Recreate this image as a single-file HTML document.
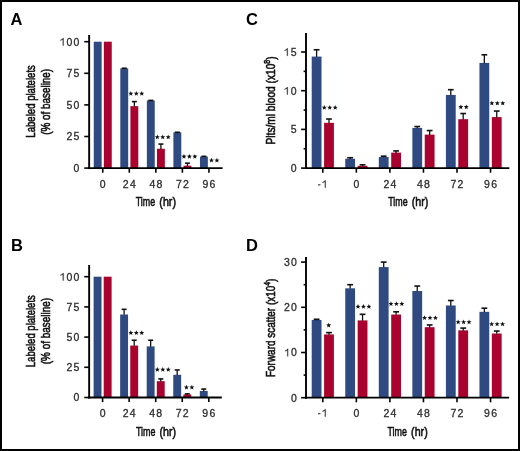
<!DOCTYPE html>
<html><head><meta charset="utf-8"><style>
html,body{margin:0;padding:0;background:#fff;}
svg{display:block;will-change:transform;}
text{font-family:"Liberation Sans",sans-serif;}
</style></head><body>
<svg width="520" height="451" viewBox="0 0 520 451">
<rect x="0" y="0" width="520" height="451" fill="#fff"/>
<rect x="93.75" y="41.70" width="7.90" height="126.40" fill="#2f4a81"/>
<rect x="103.85" y="41.70" width="7.90" height="126.40" fill="#a9022f"/>
<rect x="120.30" y="68.37" width="7.90" height="99.73" fill="#2f4a81"/>
<line x1="124.25" y1="68.67" x2="124.25" y2="68.24" stroke="#111" stroke-width="1.3"/>
<line x1="121.75" y1="68.24" x2="126.75" y2="68.24" stroke="#111" stroke-width="1.6"/>
<rect x="130.40" y="106.16" width="7.90" height="61.94" fill="#a9022f"/>
<line x1="134.35" y1="106.46" x2="134.35" y2="101.61" stroke="#111" stroke-width="1.3"/>
<line x1="131.85" y1="101.61" x2="136.85" y2="101.61" stroke="#111" stroke-width="1.6"/>
<rect x="146.85" y="100.48" width="7.90" height="67.62" fill="#2f4a81"/>
<line x1="150.80" y1="100.78" x2="150.80" y2="100.41" stroke="#111" stroke-width="1.3"/>
<line x1="148.30" y1="100.41" x2="153.30" y2="100.41" stroke="#111" stroke-width="1.6"/>
<rect x="156.95" y="148.76" width="7.90" height="19.34" fill="#a9022f"/>
<line x1="160.90" y1="149.06" x2="160.90" y2="144.08" stroke="#111" stroke-width="1.3"/>
<line x1="158.40" y1="144.08" x2="163.40" y2="144.08" stroke="#111" stroke-width="1.6"/>
<rect x="173.40" y="132.33" width="7.90" height="35.77" fill="#2f4a81"/>
<line x1="177.35" y1="132.63" x2="177.35" y2="132.27" stroke="#111" stroke-width="1.3"/>
<line x1="174.85" y1="132.27" x2="179.85" y2="132.27" stroke="#111" stroke-width="1.6"/>
<rect x="183.50" y="165.70" width="7.90" height="2.40" fill="#a9022f"/>
<line x1="187.45" y1="166.00" x2="187.45" y2="163.17" stroke="#111" stroke-width="1.3"/>
<line x1="184.95" y1="163.17" x2="189.95" y2="163.17" stroke="#111" stroke-width="1.6"/>
<rect x="199.95" y="156.60" width="7.90" height="11.50" fill="#2f4a81"/>
<line x1="203.90" y1="156.90" x2="203.90" y2="156.34" stroke="#111" stroke-width="1.3"/>
<line x1="201.40" y1="156.34" x2="206.40" y2="156.34" stroke="#111" stroke-width="1.6"/>
<line x1="89.15" y1="35.00" x2="89.15" y2="169.10" stroke="#000" stroke-width="1.9"/>
<line x1="88.15" y1="168.10" x2="222.60" y2="168.10" stroke="#000" stroke-width="1.8"/>
<line x1="84.25" y1="168.10" x2="89.15" y2="168.10" stroke="#000" stroke-width="1.6"/>
<text x="73.56" y="171.90" font-size="10.5" fill="#2e2e2e" stroke="#2e2e2e" stroke-width="0.3" >0</text>
<line x1="84.25" y1="136.50" x2="89.15" y2="136.50" stroke="#000" stroke-width="1.6"/>
<text x="66.52 73.56" y="140.30" font-size="10.5" fill="#2e2e2e" stroke="#2e2e2e" stroke-width="0.3" >25</text>
<line x1="84.25" y1="104.90" x2="89.15" y2="104.90" stroke="#000" stroke-width="1.6"/>
<text x="66.52 73.56" y="108.70" font-size="10.5" fill="#2e2e2e" stroke="#2e2e2e" stroke-width="0.3" >50</text>
<line x1="84.25" y1="73.30" x2="89.15" y2="73.30" stroke="#000" stroke-width="1.6"/>
<text x="66.52 73.56" y="77.10" font-size="10.5" fill="#2e2e2e" stroke="#2e2e2e" stroke-width="0.3" >75</text>
<line x1="84.25" y1="41.70" x2="89.15" y2="41.70" stroke="#000" stroke-width="1.6"/>
<path d="M62.79,45.50 L63.58,45.50 L63.58,38.06 L63.00,38.06 L62.32,38.88 L60.43,39.93 L60.43,40.56 L62.79,39.67Z" fill="#2e2e2e" stroke="#2e2e2e" stroke-width="0.25" stroke-linejoin="round"/>
<text x="66.52 73.56" y="45.50" font-size="10.5" fill="#2e2e2e" stroke="#2e2e2e" stroke-width="0.3" >00</text>
<line x1="102.75" y1="168.10" x2="102.75" y2="172.70" stroke="#000" stroke-width="1.6"/>
<text x="99.83" y="187.75" font-size="10.5" fill="#2e2e2e" stroke="#2e2e2e" stroke-width="0.3" >0</text>
<line x1="129.30" y1="168.10" x2="129.30" y2="172.70" stroke="#000" stroke-width="1.6"/>
<text x="122.86 129.90" y="187.75" font-size="10.5" fill="#2e2e2e" stroke="#2e2e2e" stroke-width="0.3" >24</text>
<line x1="155.85" y1="168.10" x2="155.85" y2="172.70" stroke="#000" stroke-width="1.6"/>
<text x="149.41 156.45" y="187.75" font-size="10.5" fill="#2e2e2e" stroke="#2e2e2e" stroke-width="0.3" >48</text>
<line x1="182.40" y1="168.10" x2="182.40" y2="172.70" stroke="#000" stroke-width="1.6"/>
<text x="175.96 183.00" y="187.75" font-size="10.5" fill="#2e2e2e" stroke="#2e2e2e" stroke-width="0.3" >72</text>
<line x1="208.95" y1="168.10" x2="208.95" y2="172.70" stroke="#000" stroke-width="1.6"/>
<text x="202.51 209.55" y="187.75" font-size="10.5" fill="#2e2e2e" stroke="#2e2e2e" stroke-width="0.3" >96</text>
<path d="M130.85,91.05 L131.53,92.72 L133.32,92.85 L131.94,94.01 L132.38,95.75 L130.85,94.80 L129.32,95.75 L129.76,94.01 L128.38,92.85 L130.17,92.72ZM136.30,91.05 L136.98,92.72 L138.77,92.85 L137.39,94.01 L137.83,95.75 L136.30,94.80 L134.77,95.75 L135.21,94.01 L133.83,92.85 L135.62,92.72ZM141.75,91.05 L142.43,92.72 L144.22,92.85 L142.84,94.01 L143.28,95.75 L141.75,94.80 L140.22,95.75 L140.66,94.01 L139.28,92.85 L141.07,92.72Z" fill="#111"/>
<path d="M157.30,134.55 L157.98,136.22 L159.77,136.35 L158.39,137.51 L158.83,139.25 L157.30,138.30 L155.77,139.25 L156.21,137.51 L154.83,136.35 L156.62,136.22ZM162.75,134.55 L163.43,136.22 L165.22,136.35 L163.84,137.51 L164.28,139.25 L162.75,138.30 L161.22,139.25 L161.66,137.51 L160.28,136.35 L162.07,136.22ZM168.20,134.55 L168.88,136.22 L170.67,136.35 L169.29,137.51 L169.73,139.25 L168.20,138.30 L166.67,139.25 L167.11,137.51 L165.73,136.35 L167.52,136.22Z" fill="#111"/>
<path d="M183.95,153.95 L184.63,155.62 L186.42,155.75 L185.04,156.91 L185.48,158.65 L183.95,157.70 L182.42,158.65 L182.86,156.91 L181.48,155.75 L183.27,155.62ZM189.40,153.95 L190.08,155.62 L191.87,155.75 L190.49,156.91 L190.93,158.65 L189.40,157.70 L187.87,158.65 L188.31,156.91 L186.93,155.75 L188.72,155.62ZM194.85,153.95 L195.53,155.62 L197.32,155.75 L195.94,156.91 L196.38,158.65 L194.85,157.70 L193.32,158.65 L193.76,156.91 L192.38,155.75 L194.17,155.62Z" fill="#111"/>
<path d="M211.47,157.85 L212.15,159.52 L213.95,159.65 L212.57,160.81 L213.00,162.55 L211.47,161.60 L209.95,162.55 L210.38,160.81 L209.00,159.65 L210.80,159.52ZM216.92,157.85 L217.60,159.52 L219.40,159.65 L218.02,160.81 L218.45,162.55 L216.92,161.60 L215.40,162.55 L215.83,160.81 L214.45,159.65 L216.25,159.52Z" fill="#111"/>
<text x="135.75" y="206.35" text-anchor="start" font-size="13.2" fill="#111" stroke="#111" stroke-width="0.6" textLength="19.4" lengthAdjust="spacingAndGlyphs">Time</text>
<text x="159.35" y="206.35" text-anchor="start" font-size="13.2" fill="#111" stroke="#111" stroke-width="0.6" textLength="16.6" lengthAdjust="spacingAndGlyphs">(hr)</text>
<text x="35.30" y="101.40" text-anchor="middle" font-size="13.3" fill="#111" stroke="#111" stroke-width="0.6" textLength="72.5" lengthAdjust="spacingAndGlyphs" transform="rotate(-90 35.30 101.40)">Labeled platelets</text>
<text x="50.30" y="101.80" text-anchor="middle" font-size="13.3" fill="#111" stroke="#111" stroke-width="0.6" textLength="65.9" lengthAdjust="spacingAndGlyphs" transform="rotate(-90 50.30 101.80)">(% of baseline)</text>
<rect x="93.60" y="276.70" width="7.90" height="120.80" fill="#2f4a81"/>
<rect x="103.70" y="276.70" width="7.90" height="120.80" fill="#a9022f"/>
<rect x="120.15" y="314.51" width="7.90" height="82.99" fill="#2f4a81"/>
<line x1="124.10" y1="314.81" x2="124.10" y2="309.32" stroke="#111" stroke-width="1.3"/>
<line x1="121.60" y1="309.32" x2="126.60" y2="309.32" stroke="#111" stroke-width="1.6"/>
<rect x="130.25" y="345.56" width="7.90" height="51.94" fill="#a9022f"/>
<line x1="134.20" y1="345.86" x2="134.20" y2="340.24" stroke="#111" stroke-width="1.3"/>
<line x1="131.70" y1="340.24" x2="136.70" y2="340.24" stroke="#111" stroke-width="1.6"/>
<rect x="146.70" y="346.40" width="7.90" height="51.10" fill="#2f4a81"/>
<line x1="150.65" y1="346.70" x2="150.65" y2="340.24" stroke="#111" stroke-width="1.3"/>
<line x1="148.15" y1="340.24" x2="153.15" y2="340.24" stroke="#111" stroke-width="1.6"/>
<rect x="156.80" y="381.19" width="7.90" height="16.31" fill="#a9022f"/>
<line x1="160.75" y1="381.49" x2="160.75" y2="378.90" stroke="#111" stroke-width="1.3"/>
<line x1="158.25" y1="378.90" x2="163.25" y2="378.90" stroke="#111" stroke-width="1.6"/>
<rect x="173.25" y="374.79" width="7.90" height="22.71" fill="#2f4a81"/>
<line x1="177.20" y1="375.09" x2="177.20" y2="369.96" stroke="#111" stroke-width="1.3"/>
<line x1="174.70" y1="369.96" x2="179.70" y2="369.96" stroke="#111" stroke-width="1.6"/>
<rect x="183.35" y="394.48" width="7.90" height="3.02" fill="#a9022f"/>
<line x1="187.30" y1="394.78" x2="187.30" y2="393.88" stroke="#111" stroke-width="1.3"/>
<line x1="184.80" y1="393.88" x2="189.80" y2="393.88" stroke="#111" stroke-width="1.6"/>
<rect x="199.80" y="390.98" width="7.90" height="6.52" fill="#2f4a81"/>
<line x1="203.75" y1="391.28" x2="203.75" y2="389.04" stroke="#111" stroke-width="1.3"/>
<line x1="201.25" y1="389.04" x2="206.25" y2="389.04" stroke="#111" stroke-width="1.6"/>
<line x1="89.15" y1="265.00" x2="89.15" y2="398.50" stroke="#000" stroke-width="1.9"/>
<line x1="88.15" y1="397.50" x2="221.80" y2="397.50" stroke="#000" stroke-width="1.8"/>
<line x1="84.25" y1="397.50" x2="89.15" y2="397.50" stroke="#000" stroke-width="1.6"/>
<text x="73.56" y="401.30" font-size="10.5" fill="#2e2e2e" stroke="#2e2e2e" stroke-width="0.3" >0</text>
<line x1="84.25" y1="367.30" x2="89.15" y2="367.30" stroke="#000" stroke-width="1.6"/>
<text x="66.52 73.56" y="371.10" font-size="10.5" fill="#2e2e2e" stroke="#2e2e2e" stroke-width="0.3" >25</text>
<line x1="84.25" y1="337.10" x2="89.15" y2="337.10" stroke="#000" stroke-width="1.6"/>
<text x="66.52 73.56" y="340.90" font-size="10.5" fill="#2e2e2e" stroke="#2e2e2e" stroke-width="0.3" >50</text>
<line x1="84.25" y1="306.90" x2="89.15" y2="306.90" stroke="#000" stroke-width="1.6"/>
<text x="66.52 73.56" y="310.70" font-size="10.5" fill="#2e2e2e" stroke="#2e2e2e" stroke-width="0.3" >75</text>
<line x1="84.25" y1="276.70" x2="89.15" y2="276.70" stroke="#000" stroke-width="1.6"/>
<path d="M62.79,280.50 L63.58,280.50 L63.58,273.06 L63.00,273.06 L62.32,273.88 L60.43,274.94 L60.43,275.56 L62.79,274.67Z" fill="#2e2e2e" stroke="#2e2e2e" stroke-width="0.25" stroke-linejoin="round"/>
<text x="66.52 73.56" y="280.50" font-size="10.5" fill="#2e2e2e" stroke="#2e2e2e" stroke-width="0.3" >00</text>
<line x1="102.60" y1="397.50" x2="102.60" y2="402.10" stroke="#000" stroke-width="1.6"/>
<text x="99.68" y="416.70" font-size="10.5" fill="#2e2e2e" stroke="#2e2e2e" stroke-width="0.3" >0</text>
<line x1="129.15" y1="397.50" x2="129.15" y2="402.10" stroke="#000" stroke-width="1.6"/>
<text x="122.71 129.75" y="416.70" font-size="10.5" fill="#2e2e2e" stroke="#2e2e2e" stroke-width="0.3" >24</text>
<line x1="155.70" y1="397.50" x2="155.70" y2="402.10" stroke="#000" stroke-width="1.6"/>
<text x="149.26 156.30" y="416.70" font-size="10.5" fill="#2e2e2e" stroke="#2e2e2e" stroke-width="0.3" >48</text>
<line x1="182.25" y1="397.50" x2="182.25" y2="402.10" stroke="#000" stroke-width="1.6"/>
<text x="175.81 182.85" y="416.70" font-size="10.5" fill="#2e2e2e" stroke="#2e2e2e" stroke-width="0.3" >72</text>
<line x1="208.80" y1="397.50" x2="208.80" y2="402.10" stroke="#000" stroke-width="1.6"/>
<text x="202.36 209.40" y="416.70" font-size="10.5" fill="#2e2e2e" stroke="#2e2e2e" stroke-width="0.3" >96</text>
<path d="M130.85,330.25 L131.53,331.92 L133.32,332.05 L131.94,333.21 L132.38,334.95 L130.85,334.00 L129.32,334.95 L129.76,333.21 L128.38,332.05 L130.17,331.92ZM136.30,330.25 L136.98,331.92 L138.77,332.05 L137.39,333.21 L137.83,334.95 L136.30,334.00 L134.77,334.95 L135.21,333.21 L133.83,332.05 L135.62,331.92ZM141.75,330.25 L142.43,331.92 L144.22,332.05 L142.84,333.21 L143.28,334.95 L141.75,334.00 L140.22,334.95 L140.66,333.21 L139.28,332.05 L141.07,331.92Z" fill="#111"/>
<path d="M157.35,367.05 L158.03,368.72 L159.82,368.85 L158.44,370.01 L158.88,371.75 L157.35,370.80 L155.82,371.75 L156.26,370.01 L154.88,368.85 L156.67,368.72ZM162.80,367.05 L163.48,368.72 L165.27,368.85 L163.89,370.01 L164.33,371.75 L162.80,370.80 L161.27,371.75 L161.71,370.01 L160.33,368.85 L162.12,368.72ZM168.25,367.05 L168.93,368.72 L170.72,368.85 L169.34,370.01 L169.78,371.75 L168.25,370.80 L166.72,371.75 L167.16,370.01 L165.78,368.85 L167.57,368.72Z" fill="#111"/>
<path d="M186.43,384.80 L187.10,386.47 L188.90,386.60 L187.52,387.76 L187.95,389.50 L186.43,388.55 L184.90,389.50 L185.33,387.76 L183.95,386.60 L185.75,386.47ZM191.88,384.80 L192.55,386.47 L194.35,386.60 L192.97,387.76 L193.40,389.50 L191.88,388.55 L190.35,389.50 L190.78,387.76 L189.40,386.60 L191.20,386.47Z" fill="#111"/>
<text x="135.95" y="436.40" text-anchor="start" font-size="13.2" fill="#111" stroke="#111" stroke-width="0.6" textLength="19.4" lengthAdjust="spacingAndGlyphs">Time</text>
<text x="159.55" y="436.40" text-anchor="start" font-size="13.2" fill="#111" stroke="#111" stroke-width="0.6" textLength="16.6" lengthAdjust="spacingAndGlyphs">(hr)</text>
<text x="35.00" y="331.20" text-anchor="middle" font-size="13.3" fill="#111" stroke="#111" stroke-width="0.6" textLength="72.0" lengthAdjust="spacingAndGlyphs" transform="rotate(-90 35.00 331.20)">Labeled platelets</text>
<text x="50.20" y="331.10" text-anchor="middle" font-size="13.3" fill="#111" stroke="#111" stroke-width="0.6" textLength="66.4" lengthAdjust="spacingAndGlyphs" transform="rotate(-90 50.20 331.10)">(% of baseline)</text>
<rect x="311.70" y="56.57" width="9.80" height="111.53" fill="#2f4a81"/>
<line x1="316.60" y1="56.87" x2="316.60" y2="49.76" stroke="#111" stroke-width="1.3"/>
<line x1="313.70" y1="49.76" x2="319.50" y2="49.76" stroke="#111" stroke-width="1.6"/>
<rect x="324.10" y="122.82" width="9.80" height="45.28" fill="#a9022f"/>
<line x1="329.00" y1="123.12" x2="329.00" y2="119.03" stroke="#111" stroke-width="1.3"/>
<line x1="326.10" y1="119.03" x2="331.90" y2="119.03" stroke="#111" stroke-width="1.6"/>
<rect x="345.25" y="158.73" width="9.80" height="9.37" fill="#2f4a81"/>
<line x1="350.15" y1="159.03" x2="350.15" y2="157.73" stroke="#111" stroke-width="1.3"/>
<line x1="347.25" y1="157.73" x2="353.05" y2="157.73" stroke="#111" stroke-width="1.6"/>
<rect x="357.65" y="165.78" width="9.80" height="2.32" fill="#a9022f"/>
<line x1="362.55" y1="166.08" x2="362.55" y2="164.77" stroke="#111" stroke-width="1.3"/>
<line x1="359.65" y1="164.77" x2="365.45" y2="164.77" stroke="#111" stroke-width="1.6"/>
<rect x="378.80" y="157.03" width="9.80" height="11.07" fill="#2f4a81"/>
<line x1="383.70" y1="157.33" x2="383.70" y2="156.18" stroke="#111" stroke-width="1.3"/>
<line x1="380.80" y1="156.18" x2="386.60" y2="156.18" stroke="#111" stroke-width="1.6"/>
<rect x="391.20" y="152.62" width="9.80" height="15.48" fill="#a9022f"/>
<line x1="396.10" y1="152.92" x2="396.10" y2="150.92" stroke="#111" stroke-width="1.3"/>
<line x1="393.20" y1="150.92" x2="399.00" y2="150.92" stroke="#111" stroke-width="1.6"/>
<rect x="412.35" y="127.93" width="9.80" height="40.17" fill="#2f4a81"/>
<line x1="417.25" y1="128.23" x2="417.25" y2="126.54" stroke="#111" stroke-width="1.3"/>
<line x1="414.35" y1="126.54" x2="420.15" y2="126.54" stroke="#111" stroke-width="1.6"/>
<rect x="424.75" y="134.59" width="9.80" height="33.51" fill="#a9022f"/>
<line x1="429.65" y1="134.89" x2="429.65" y2="130.56" stroke="#111" stroke-width="1.3"/>
<line x1="426.75" y1="130.56" x2="432.55" y2="130.56" stroke="#111" stroke-width="1.6"/>
<rect x="445.90" y="94.96" width="9.80" height="73.14" fill="#2f4a81"/>
<line x1="450.80" y1="95.26" x2="450.80" y2="89.69" stroke="#111" stroke-width="1.3"/>
<line x1="447.90" y1="89.69" x2="453.70" y2="89.69" stroke="#111" stroke-width="1.6"/>
<rect x="458.30" y="119.18" width="9.80" height="48.92" fill="#a9022f"/>
<line x1="463.20" y1="119.48" x2="463.20" y2="113.53" stroke="#111" stroke-width="1.3"/>
<line x1="460.30" y1="113.53" x2="466.10" y2="113.53" stroke="#111" stroke-width="1.6"/>
<rect x="479.45" y="62.91" width="9.80" height="105.19" fill="#2f4a81"/>
<line x1="484.35" y1="63.21" x2="484.35" y2="54.79" stroke="#111" stroke-width="1.3"/>
<line x1="481.45" y1="54.79" x2="487.25" y2="54.79" stroke="#111" stroke-width="1.6"/>
<rect x="491.85" y="117.09" width="9.80" height="51.01" fill="#a9022f"/>
<line x1="496.75" y1="117.39" x2="496.75" y2="111.06" stroke="#111" stroke-width="1.3"/>
<line x1="493.85" y1="111.06" x2="499.65" y2="111.06" stroke="#111" stroke-width="1.6"/>
<line x1="306.00" y1="33.00" x2="306.00" y2="169.10" stroke="#000" stroke-width="1.9"/>
<line x1="305.00" y1="168.10" x2="509.30" y2="168.10" stroke="#000" stroke-width="1.8"/>
<line x1="301.10" y1="168.10" x2="306.00" y2="168.10" stroke="#000" stroke-width="1.6"/>
<text x="290.66" y="171.90" font-size="10.5" fill="#2e2e2e" stroke="#2e2e2e" stroke-width="0.3" >0</text>
<line x1="303.60" y1="148.75" x2="306.00" y2="148.75" stroke="#000" stroke-width="1.6"/>
<line x1="301.10" y1="129.40" x2="306.00" y2="129.40" stroke="#000" stroke-width="1.6"/>
<text x="290.66" y="133.20" font-size="10.5" fill="#2e2e2e" stroke="#2e2e2e" stroke-width="0.3" >5</text>
<line x1="303.60" y1="110.05" x2="306.00" y2="110.05" stroke="#000" stroke-width="1.6"/>
<line x1="301.10" y1="90.70" x2="306.00" y2="90.70" stroke="#000" stroke-width="1.6"/>
<path d="M286.93,94.50 L287.72,94.50 L287.72,87.06 L287.14,87.06 L286.46,87.88 L284.57,88.93 L284.57,89.56 L286.93,88.67Z" fill="#2e2e2e" stroke="#2e2e2e" stroke-width="0.25" stroke-linejoin="round"/>
<text x="290.66" y="94.50" font-size="10.5" fill="#2e2e2e" stroke="#2e2e2e" stroke-width="0.3" >0</text>
<line x1="303.60" y1="71.35" x2="306.00" y2="71.35" stroke="#000" stroke-width="1.6"/>
<line x1="301.10" y1="52.00" x2="306.00" y2="52.00" stroke="#000" stroke-width="1.6"/>
<path d="M286.93,55.80 L287.72,55.80 L287.72,48.36 L287.14,48.36 L286.46,49.18 L284.57,50.23 L284.57,50.86 L286.93,49.97Z" fill="#2e2e2e" stroke="#2e2e2e" stroke-width="0.25" stroke-linejoin="round"/>
<text x="290.66" y="55.80" font-size="10.5" fill="#2e2e2e" stroke="#2e2e2e" stroke-width="0.3" >5</text>
<line x1="322.80" y1="168.10" x2="322.80" y2="172.70" stroke="#000" stroke-width="1.6"/>
<rect x="318.25" y="184.39" width="2.00" height="0.84" fill="#2e2e2e" stroke="#2e2e2e" stroke-width="0.25"/>
<path d="M324.86,187.75 L325.65,187.75 L325.65,180.31 L325.07,180.31 L324.39,181.13 L322.50,182.19 L322.50,182.81 L324.86,181.92Z" fill="#2e2e2e" stroke="#2e2e2e" stroke-width="0.25" stroke-linejoin="round"/>
<line x1="356.35" y1="168.10" x2="356.35" y2="172.70" stroke="#000" stroke-width="1.6"/>
<text x="353.43" y="187.75" font-size="10.5" fill="#2e2e2e" stroke="#2e2e2e" stroke-width="0.3" >0</text>
<line x1="389.90" y1="168.10" x2="389.90" y2="172.70" stroke="#000" stroke-width="1.6"/>
<text x="383.46 390.50" y="187.75" font-size="10.5" fill="#2e2e2e" stroke="#2e2e2e" stroke-width="0.3" >24</text>
<line x1="423.45" y1="168.10" x2="423.45" y2="172.70" stroke="#000" stroke-width="1.6"/>
<text x="417.01 424.05" y="187.75" font-size="10.5" fill="#2e2e2e" stroke="#2e2e2e" stroke-width="0.3" >48</text>
<line x1="457.00" y1="168.10" x2="457.00" y2="172.70" stroke="#000" stroke-width="1.6"/>
<text x="450.56 457.60" y="187.75" font-size="10.5" fill="#2e2e2e" stroke="#2e2e2e" stroke-width="0.3" >72</text>
<line x1="490.55" y1="168.10" x2="490.55" y2="172.70" stroke="#000" stroke-width="1.6"/>
<text x="484.11 491.15" y="187.75" font-size="10.5" fill="#2e2e2e" stroke="#2e2e2e" stroke-width="0.3" >96</text>
<path d="M324.30,105.05 L324.98,106.72 L326.77,106.85 L325.39,108.01 L325.83,109.75 L324.30,108.80 L322.77,109.75 L323.21,108.01 L321.83,106.85 L323.62,106.72ZM329.75,105.05 L330.43,106.72 L332.22,106.85 L330.84,108.01 L331.28,109.75 L329.75,108.80 L328.22,109.75 L328.66,108.01 L327.28,106.85 L329.07,106.72ZM335.20,105.05 L335.88,106.72 L337.67,106.85 L336.29,108.01 L336.73,109.75 L335.20,108.80 L333.67,109.75 L334.11,108.01 L332.73,106.85 L334.52,106.72Z" fill="#111"/>
<path d="M460.82,104.45 L461.50,106.12 L463.30,106.25 L461.92,107.41 L462.35,109.15 L460.82,108.20 L459.30,109.15 L459.73,107.41 L458.35,106.25 L460.15,106.12ZM466.27,104.45 L466.95,106.12 L468.75,106.25 L467.37,107.41 L467.80,109.15 L466.27,108.20 L464.75,109.15 L465.18,107.41 L463.80,106.25 L465.60,106.12Z" fill="#111"/>
<path d="M491.85,100.65 L492.53,102.32 L494.32,102.45 L492.94,103.61 L493.38,105.35 L491.85,104.40 L490.32,105.35 L490.76,103.61 L489.38,102.45 L491.17,102.32ZM497.30,100.65 L497.98,102.32 L499.77,102.45 L498.39,103.61 L498.83,105.35 L497.30,104.40 L495.77,105.35 L496.21,103.61 L494.83,102.45 L496.62,102.32ZM502.75,100.65 L503.43,102.32 L505.22,102.45 L503.84,103.61 L504.28,105.35 L502.75,104.40 L501.22,105.35 L501.66,103.61 L500.28,102.45 L502.07,102.32Z" fill="#111"/>
<text x="388.20" y="206.10" text-anchor="start" font-size="13.2" fill="#111" stroke="#111" stroke-width="0.6" textLength="19.4" lengthAdjust="spacingAndGlyphs">Time</text>
<text x="411.80" y="206.10" text-anchor="start" font-size="13.2" fill="#111" stroke="#111" stroke-width="0.6" textLength="16.6" lengthAdjust="spacingAndGlyphs">(hr)</text>
<text x="275.20" y="100.45" text-anchor="middle" font-size="13.3" fill="#111" stroke="#111" stroke-width="0.6" textLength="88.0" lengthAdjust="spacingAndGlyphs" transform="rotate(-90 275.20 100.45)">Plts/ml blood (x10<tspan dy="-5" font-size="9">8</tspan><tspan dy="5">)</tspan></text>
<rect x="311.70" y="319.96" width="9.80" height="77.74" fill="#2f4a81"/>
<line x1="316.60" y1="320.26" x2="316.60" y2="319.28" stroke="#111" stroke-width="1.3"/>
<line x1="313.70" y1="319.28" x2="319.50" y2="319.28" stroke="#111" stroke-width="1.6"/>
<rect x="324.10" y="334.42" width="9.80" height="63.28" fill="#a9022f"/>
<line x1="329.00" y1="334.72" x2="329.00" y2="332.61" stroke="#111" stroke-width="1.3"/>
<line x1="326.10" y1="332.61" x2="331.90" y2="332.61" stroke="#111" stroke-width="1.6"/>
<rect x="345.25" y="288.32" width="9.80" height="109.38" fill="#2f4a81"/>
<line x1="350.15" y1="288.62" x2="350.15" y2="284.70" stroke="#111" stroke-width="1.3"/>
<line x1="347.25" y1="284.70" x2="353.05" y2="284.70" stroke="#111" stroke-width="1.6"/>
<rect x="357.65" y="320.41" width="9.80" height="77.29" fill="#a9022f"/>
<line x1="362.55" y1="320.71" x2="362.55" y2="314.31" stroke="#111" stroke-width="1.3"/>
<line x1="359.65" y1="314.31" x2="365.45" y2="314.31" stroke="#111" stroke-width="1.6"/>
<rect x="378.80" y="267.07" width="9.80" height="130.63" fill="#2f4a81"/>
<line x1="383.70" y1="267.37" x2="383.70" y2="262.10" stroke="#111" stroke-width="1.3"/>
<line x1="380.80" y1="262.10" x2="386.60" y2="262.10" stroke="#111" stroke-width="1.6"/>
<rect x="391.20" y="314.53" width="9.80" height="83.17" fill="#a9022f"/>
<line x1="396.10" y1="314.83" x2="396.10" y2="311.82" stroke="#111" stroke-width="1.3"/>
<line x1="393.20" y1="311.82" x2="399.00" y2="311.82" stroke="#111" stroke-width="1.6"/>
<rect x="412.35" y="291.03" width="9.80" height="106.67" fill="#2f4a81"/>
<line x1="417.25" y1="291.33" x2="417.25" y2="286.06" stroke="#111" stroke-width="1.3"/>
<line x1="414.35" y1="286.06" x2="420.15" y2="286.06" stroke="#111" stroke-width="1.6"/>
<rect x="424.75" y="327.19" width="9.80" height="70.51" fill="#a9022f"/>
<line x1="429.65" y1="327.49" x2="429.65" y2="324.93" stroke="#111" stroke-width="1.3"/>
<line x1="426.75" y1="324.93" x2="432.55" y2="324.93" stroke="#111" stroke-width="1.6"/>
<rect x="445.90" y="305.49" width="9.80" height="92.21" fill="#2f4a81"/>
<line x1="450.80" y1="305.79" x2="450.80" y2="300.52" stroke="#111" stroke-width="1.3"/>
<line x1="447.90" y1="300.52" x2="453.70" y2="300.52" stroke="#111" stroke-width="1.6"/>
<rect x="458.30" y="330.35" width="9.80" height="67.35" fill="#a9022f"/>
<line x1="463.20" y1="330.65" x2="463.20" y2="328.09" stroke="#111" stroke-width="1.3"/>
<line x1="460.30" y1="328.09" x2="466.10" y2="328.09" stroke="#111" stroke-width="1.6"/>
<rect x="479.45" y="311.82" width="9.80" height="85.88" fill="#2f4a81"/>
<line x1="484.35" y1="312.12" x2="484.35" y2="308.20" stroke="#111" stroke-width="1.3"/>
<line x1="481.45" y1="308.20" x2="487.25" y2="308.20" stroke="#111" stroke-width="1.6"/>
<rect x="491.85" y="333.52" width="9.80" height="64.18" fill="#a9022f"/>
<line x1="496.75" y1="333.82" x2="496.75" y2="331.03" stroke="#111" stroke-width="1.3"/>
<line x1="493.85" y1="331.03" x2="499.65" y2="331.03" stroke="#111" stroke-width="1.6"/>
<line x1="306.00" y1="257.00" x2="306.00" y2="398.70" stroke="#000" stroke-width="1.9"/>
<line x1="305.00" y1="397.70" x2="509.10" y2="397.70" stroke="#000" stroke-width="1.8"/>
<line x1="301.10" y1="397.70" x2="306.00" y2="397.70" stroke="#000" stroke-width="1.6"/>
<text x="291.06" y="401.50" font-size="10.5" fill="#2e2e2e" stroke="#2e2e2e" stroke-width="0.3" >0</text>
<line x1="303.60" y1="375.10" x2="306.00" y2="375.10" stroke="#000" stroke-width="1.6"/>
<line x1="301.10" y1="352.50" x2="306.00" y2="352.50" stroke="#000" stroke-width="1.6"/>
<path d="M287.33,356.30 L288.12,356.30 L288.12,348.86 L287.54,348.86 L286.86,349.69 L284.97,350.74 L284.97,351.37 L287.33,350.47Z" fill="#2e2e2e" stroke="#2e2e2e" stroke-width="0.25" stroke-linejoin="round"/>
<text x="291.06" y="356.30" font-size="10.5" fill="#2e2e2e" stroke="#2e2e2e" stroke-width="0.3" >0</text>
<line x1="303.60" y1="329.90" x2="306.00" y2="329.90" stroke="#000" stroke-width="1.6"/>
<line x1="301.10" y1="307.30" x2="306.00" y2="307.30" stroke="#000" stroke-width="1.6"/>
<text x="284.02 291.06" y="311.10" font-size="10.5" fill="#2e2e2e" stroke="#2e2e2e" stroke-width="0.3" >20</text>
<line x1="303.60" y1="284.70" x2="306.00" y2="284.70" stroke="#000" stroke-width="1.6"/>
<line x1="301.10" y1="262.10" x2="306.00" y2="262.10" stroke="#000" stroke-width="1.6"/>
<text x="284.02 291.06" y="265.90" font-size="10.5" fill="#2e2e2e" stroke="#2e2e2e" stroke-width="0.3" >30</text>
<line x1="322.80" y1="397.70" x2="322.80" y2="402.30" stroke="#000" stroke-width="1.6"/>
<rect x="318.25" y="413.24" width="2.00" height="0.84" fill="#2e2e2e" stroke="#2e2e2e" stroke-width="0.25"/>
<path d="M324.86,416.60 L325.65,416.60 L325.65,409.16 L325.07,409.16 L324.39,409.99 L322.50,411.04 L322.50,411.67 L324.86,410.77Z" fill="#2e2e2e" stroke="#2e2e2e" stroke-width="0.25" stroke-linejoin="round"/>
<line x1="356.35" y1="397.70" x2="356.35" y2="402.30" stroke="#000" stroke-width="1.6"/>
<text x="353.43" y="416.60" font-size="10.5" fill="#2e2e2e" stroke="#2e2e2e" stroke-width="0.3" >0</text>
<line x1="389.90" y1="397.70" x2="389.90" y2="402.30" stroke="#000" stroke-width="1.6"/>
<text x="383.46 390.50" y="416.60" font-size="10.5" fill="#2e2e2e" stroke="#2e2e2e" stroke-width="0.3" >24</text>
<line x1="423.45" y1="397.70" x2="423.45" y2="402.30" stroke="#000" stroke-width="1.6"/>
<text x="417.01 424.05" y="416.60" font-size="10.5" fill="#2e2e2e" stroke="#2e2e2e" stroke-width="0.3" >48</text>
<line x1="457.00" y1="397.70" x2="457.00" y2="402.30" stroke="#000" stroke-width="1.6"/>
<text x="450.56 457.60" y="416.60" font-size="10.5" fill="#2e2e2e" stroke="#2e2e2e" stroke-width="0.3" >72</text>
<line x1="490.55" y1="397.70" x2="490.55" y2="402.30" stroke="#000" stroke-width="1.6"/>
<text x="484.11 491.15" y="416.60" font-size="10.5" fill="#2e2e2e" stroke="#2e2e2e" stroke-width="0.3" >96</text>
<path d="M328.70,322.70 L329.38,324.37 L331.17,324.50 L329.79,325.66 L330.23,327.40 L328.70,326.45 L327.17,327.40 L327.61,325.66 L326.23,324.50 L328.02,324.37Z" fill="#111"/>
<path d="M358.00,304.10 L358.68,305.77 L360.47,305.90 L359.09,307.06 L359.53,308.80 L358.00,307.85 L356.47,308.80 L356.91,307.06 L355.53,305.90 L357.32,305.77ZM363.45,304.10 L364.13,305.77 L365.92,305.90 L364.54,307.06 L364.98,308.80 L363.45,307.85 L361.92,308.80 L362.36,307.06 L360.98,305.90 L362.77,305.77ZM368.90,304.10 L369.58,305.77 L371.37,305.90 L369.99,307.06 L370.43,308.80 L368.90,307.85 L367.37,308.80 L367.81,307.06 L366.43,305.90 L368.22,305.77Z" fill="#111"/>
<path d="M390.95,301.25 L391.63,302.92 L393.42,303.05 L392.04,304.21 L392.48,305.95 L390.95,305.00 L389.42,305.95 L389.86,304.21 L388.48,303.05 L390.27,302.92ZM396.40,301.25 L397.08,302.92 L398.87,303.05 L397.49,304.21 L397.93,305.95 L396.40,305.00 L394.87,305.95 L395.31,304.21 L393.93,303.05 L395.72,302.92ZM401.85,301.25 L402.53,302.92 L404.32,303.05 L402.94,304.21 L403.38,305.95 L401.85,305.00 L400.32,305.95 L400.76,304.21 L399.38,303.05 L401.17,302.92Z" fill="#111"/>
<path d="M424.55,315.35 L425.23,317.02 L427.02,317.15 L425.64,318.31 L426.08,320.05 L424.55,319.10 L423.02,320.05 L423.46,318.31 L422.08,317.15 L423.87,317.02ZM430.00,315.35 L430.68,317.02 L432.47,317.15 L431.09,318.31 L431.53,320.05 L430.00,319.10 L428.47,320.05 L428.91,318.31 L427.53,317.15 L429.32,317.02ZM435.45,315.35 L436.13,317.02 L437.92,317.15 L436.54,318.31 L436.98,320.05 L435.45,319.10 L433.92,320.05 L434.36,318.31 L432.98,317.15 L434.77,317.02Z" fill="#111"/>
<path d="M458.15,319.55 L458.83,321.22 L460.62,321.35 L459.24,322.51 L459.68,324.25 L458.15,323.30 L456.62,324.25 L457.06,322.51 L455.68,321.35 L457.47,321.22ZM463.60,319.55 L464.28,321.22 L466.07,321.35 L464.69,322.51 L465.13,324.25 L463.60,323.30 L462.07,324.25 L462.51,322.51 L461.13,321.35 L462.92,321.22ZM469.05,319.55 L469.73,321.22 L471.52,321.35 L470.14,322.51 L470.58,324.25 L469.05,323.30 L467.52,324.25 L467.96,322.51 L466.58,321.35 L468.37,321.22Z" fill="#111"/>
<path d="M491.65,321.55 L492.33,323.22 L494.12,323.35 L492.74,324.51 L493.18,326.25 L491.65,325.30 L490.12,326.25 L490.56,324.51 L489.18,323.35 L490.97,323.22ZM497.10,321.55 L497.78,323.22 L499.57,323.35 L498.19,324.51 L498.63,326.25 L497.10,325.30 L495.57,326.25 L496.01,324.51 L494.63,323.35 L496.42,323.22ZM502.55,321.55 L503.23,323.22 L505.02,323.35 L503.64,324.51 L504.08,326.25 L502.55,325.30 L501.02,326.25 L501.46,324.51 L500.08,323.35 L501.87,323.22Z" fill="#111"/>
<text x="387.50" y="436.40" text-anchor="start" font-size="13.2" fill="#111" stroke="#111" stroke-width="0.6" textLength="19.4" lengthAdjust="spacingAndGlyphs">Time</text>
<text x="411.10" y="436.40" text-anchor="start" font-size="13.2" fill="#111" stroke="#111" stroke-width="0.6" textLength="16.6" lengthAdjust="spacingAndGlyphs">(hr)</text>
<text x="274.60" y="327.80" text-anchor="middle" font-size="13.3" fill="#111" stroke="#111" stroke-width="0.6" textLength="98.4" lengthAdjust="spacingAndGlyphs" transform="rotate(-90 274.60 327.80)">Forward scatter (x10<tspan dy="-5" font-size="9">4</tspan><tspan dy="5">)</tspan></text>
<text x="10.6" y="24.9" font-weight="bold" font-size="16.5" fill="#000">A</text>
<text x="246.0" y="25.2" font-weight="bold" font-size="16.5" fill="#000">C</text>
<text x="10.9" y="251.3" font-weight="bold" font-size="16.5" fill="#000">B</text>
<text x="246.0" y="251.3" font-weight="bold" font-size="16.5" fill="#000">D</text>
<rect x="1" y="1" width="518" height="449" fill="none" stroke="#000" stroke-width="2"/>
</svg>
</body></html>
